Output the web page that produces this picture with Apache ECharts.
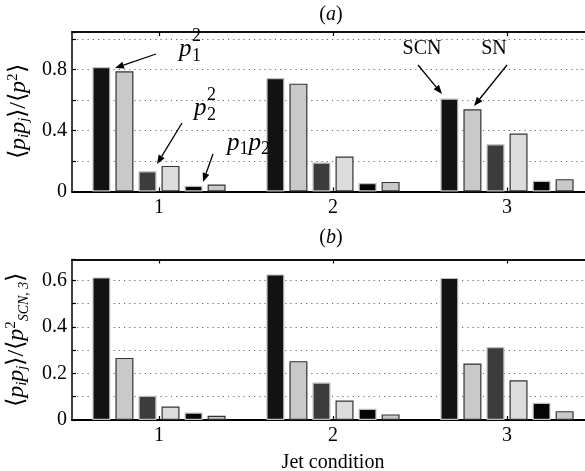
<!DOCTYPE html>
<html>
<head>
<meta charset="utf-8">
<script src="https://cdn.jsdelivr.net/npm/echarts@6/dist/echarts.min.js"></script>
<style>
html,body{margin:0;padding:0;background:#fff;}
#c{width:585px;height:471px;}
</style>
</head>
<body>
<div id="c"></div>
<script>
// ---- data ----
const categories = ['1', '2', '3'];
// panel (a): <p_i p_j>/<p^2>
const a_SCN_p1sq = [0.817, 0.745, 0.610];
const a_SN_p1sq  = [0.789, 0.708, 0.540];
const a_SCN_p2sq = [0.133, 0.190, 0.310];
const a_SN_p2sq  = [0.168, 0.230, 0.380];
const a_SCN_p1p2 = [0.037, 0.056, 0.070];
const a_SN_p1p2  = [0.046, 0.063, 0.081];
// panel (b): <p_i p_j>/<p^2_SCN,3>
const b_SCN_p1sq = [0.613, 0.626, 0.611];
const b_SN_p1sq  = [0.267, 0.253, 0.243];
const b_SCN_p2sq = [0.104, 0.161, 0.314];
const b_SN_p2sq  = [0.058, 0.084, 0.171];
const b_SCN_p1p2 = [0.032, 0.048, 0.074];
const b_SN_p1p2  = [0.018, 0.024, 0.038];
const yLabelsA = ['0', '0.4', '0.8'];
const yLabelsB = ['0', '0.2', '0.4', '0.6'];

const FONT = '"Liberation Serif", "Times New Roman", serif';
const fills   = ['#121212', '#c9c9c9', '#3c3c3c', '#dcdcdc', '#050505', '#c9c9c9'];
const borders = ['#c0c0c0', '#333333', '#bdbdbd', '#333333', '#c0c0c0', '#333333'];

const chart = echarts.init(document.getElementById('c'), null, {renderer: 'canvas'});

function barSeries(data, i, xi, yi) {
  return {
    type: 'bar', data: data, xAxisIndex: xi, yAxisIndex: yi,
    barWidth: 18, barGap: '28%', z: 3,
    itemStyle: {color: fills[i], borderColor: borders[i], borderWidth: 1.2},
    silent: true, animation: false
  };
}

function xAxes(gridIndex) {
  const base = {
    type: 'category', data: categories, gridIndex: gridIndex,
    boundaryGap: true,
    axisTick: {show: true, inside: true, alignWithLabel: true, length: 4, lineStyle: {color: '#000', width: 1.2}},
    splitLine: {show: false}
  };
  return [
    Object.assign({}, base, {
      position: 'bottom',
      axisLine: {show: true, lineStyle: {color: '#000', width: 2}},
      axisLabel: {show: true, fontFamily: FONT, fontSize: 20, color: '#000', margin: 6}
    }),
    Object.assign({}, base, {
      position: 'top',
      axisLine: {show: true, lineStyle: {color: '#111', width: 2}},
      axisLabel: {show: false}
    })
  ];
}

function yAxis(gridIndex, max, interval, labels) {
  return {
    type: 'value', gridIndex: gridIndex, min: 0, max: max, interval: interval,
    axisLine: {show: true, lineStyle: {color: '#000', width: 1.5}},
    axisTick: {show: true, inside: true, length: 4, lineStyle: {color: '#000', width: 1.2}},
    axisLabel: {
      fontFamily: FONT, fontSize: 20, color: '#000', margin: 5,
      formatter: function (v) {
        const s = String(Math.round(v * 100) / 100);
        return labels.indexOf(s) >= 0 ? s : '';
      }
    },
    splitLine: {show: true, showMinLine: false, lineStyle: {color: '#6a6a6a', width: 1.2, type: [1.2, 4], opacity: 1}}
  };
}

const richBase = {
  n: {fontFamily: FONT, fontSize: 24, color: '#000'},
  i: {fontFamily: FONT, fontSize: 24, fontStyle: 'italic', color: '#000'},
  s: {fontFamily: FONT, fontSize: 15, fontStyle: 'italic', color: '#000', padding: [10, 0, 0, 0]},
  u: {fontFamily: FONT, fontSize: 15, color: '#000', padding: [0, 0, 12, 0]},
  ss: {fontFamily: FONT, fontSize: 14, fontStyle: 'italic', color: '#000', padding: [14, 0, 0, 0]},
  tn: {fontFamily: FONT, fontSize: 20, color: '#000'},
  ti: {fontFamily: FONT, fontSize: 20, fontStyle: 'italic', color: '#000'},
  ap: {fontFamily: FONT, fontSize: 25, fontStyle: 'italic', color: '#000'},
  as: {fontFamily: FONT, fontSize: 18, color: '#000', padding: [12, 0, 0, 0]}
};

const yA = yAxis(0, 1.047, 0.2, yLabelsA);
yA.name = '{n|⟨}{i|p}{s|i}{i|p}{s|j}{n|⟩/⟨}{i|p}{u|2}{n|⟩}';
yA.nameLocation = 'middle';
yA.nameRotate = 90;
yA.nameGap = 36;
yA.nameTextStyle = {rich: richBase};

const yB = yAxis(1, 0.69, 0.1, yLabelsB);
yB.name = '{n|⟨}{i|p}{s|i}{i|p}{s|j}{n|⟩/⟨}{i|p}{u|2}{ss|SCN, 3}{n|⟩}';
yB.nameLocation = 'middle';
yB.nameRotate = 90;
yB.nameGap = 36;
yB.nameTextStyle = {rich: richBase};

const xA = xAxes(0);
const xB = xAxes(1);
xB[0].name = 'Jet condition';
xB[0].nameLocation = 'middle';
xB[0].nameGap = 33;
xB[0].nameTextStyle = {fontFamily: FONT, fontSize: 20, color: '#000'};

// arrows / annotation helpers (pixel layout of annotations)
function arrow(id, x1, y1, x2, y2) {
  const ang = Math.atan2(y2 - y1, x2 - x1);
  const L = 9, W = 3.5;
  const bx = x2 - L * Math.cos(ang), by = y2 - L * Math.sin(ang);
  const px = -Math.sin(ang) * W, py = Math.cos(ang) * W;
  return [
    {id: id + 'l', type: 'line', z: 50, shape: {x1: x1, y1: y1, x2: bx, y2: by}, style: {stroke: '#000', lineWidth: 1.3}, silent: true},
    {id: id + 'h', type: 'polygon', z: 50, shape: {points: [[x2, y2], [bx + px, by + py], [bx - px, by - py]]}, style: {fill: '#000'}, silent: true}
  ];
}
function txt(id, x, y, text, size, italic, align) {
  return {id: id, type: 'text', x: x, y: y, z: 50, silent: true,
    style: {text: text, fontFamily: FONT, fontSize: size, fontStyle: italic ? 'italic' : 'normal',
      fill: '#000', textAlign: align || 'left', textVerticalAlign: 'middle'}};
}

const graphics = [].concat(
  [
    {id: 'ta', type: 'text', x: 331, y: 15, z: 50, silent: true, style: {text: '{tn|(}{ti|a}{tn|)}', rich: richBase, textAlign: 'center', textVerticalAlign: 'middle'}},
    {id: 'tb', type: 'text', x: 331, y: 238, z: 50, silent: true, style: {text: '{tn|(}{ti|b}{tn|)}', rich: richBase, textAlign: 'center', textVerticalAlign: 'middle'}},
    // p1^2
    txt('p1', 179, 49, 'p', 25, true), txt('p1u', 192, 36, '2', 18, false), txt('p1s', 192, 56, '1', 18, false),
    // p2^2
    txt('p2', 194, 108, 'p', 25, true), txt('p2u', 207, 95, '2', 18, false), txt('p2s', 207, 115, '2', 18, false),
    // p1p2
    {id: 'p12', type: 'text', x: 227, y: 143, z: 50, silent: true, style: {text: '{ap|p}{as|1}{ap|p}{as|2}', rich: richBase, textAlign: 'left', textVerticalAlign: 'middle'}},
    txt('scn', 422, 49, 'SCN', 20, false, 'center'),
    txt('sn', 494, 49, 'SN', 20, false, 'center')
  ],
  arrow('a1', 156, 54, 115, 68),
  arrow('a2', 182, 123, 157, 164),
  arrow('a3', 213, 154, 203, 182),
  arrow('a4', 418, 65, 442, 94),
  arrow('a5', 507, 65, 474, 106)
);

const option = {
  animation: false,
  backgroundColor: '#fff',
  textStyle: {fontFamily: FONT},
  grid: [
    {left: 72, top: 32, width: 522, height: 159.5, show: false, containLabel: false, outerBoundsMode: 'none'},
    {left: 72, top: 259.5, width: 522, height: 160.5, show: false, containLabel: false, outerBoundsMode: 'none'}
  ],
  xAxis: [xA[0], xA[1], xB[0], xB[1]],
  yAxis: [yA, yB],
  series: [
    barSeries(a_SCN_p1sq, 0, 0, 0), barSeries(a_SN_p1sq, 1, 0, 0),
    barSeries(a_SCN_p2sq, 2, 0, 0), barSeries(a_SN_p2sq, 3, 0, 0),
    barSeries(a_SCN_p1p2, 4, 0, 0), barSeries(a_SN_p1p2, 5, 0, 0),
    barSeries(b_SCN_p1sq, 0, 2, 1), barSeries(b_SN_p1sq, 1, 2, 1),
    barSeries(b_SCN_p2sq, 2, 2, 1), barSeries(b_SN_p2sq, 3, 2, 1),
    barSeries(b_SCN_p1p2, 4, 2, 1), barSeries(b_SN_p1p2, 5, 2, 1)
  ],
  graphic: {elements: graphics}
};
chart.setOption(option);
</script>
</body>
</html>
